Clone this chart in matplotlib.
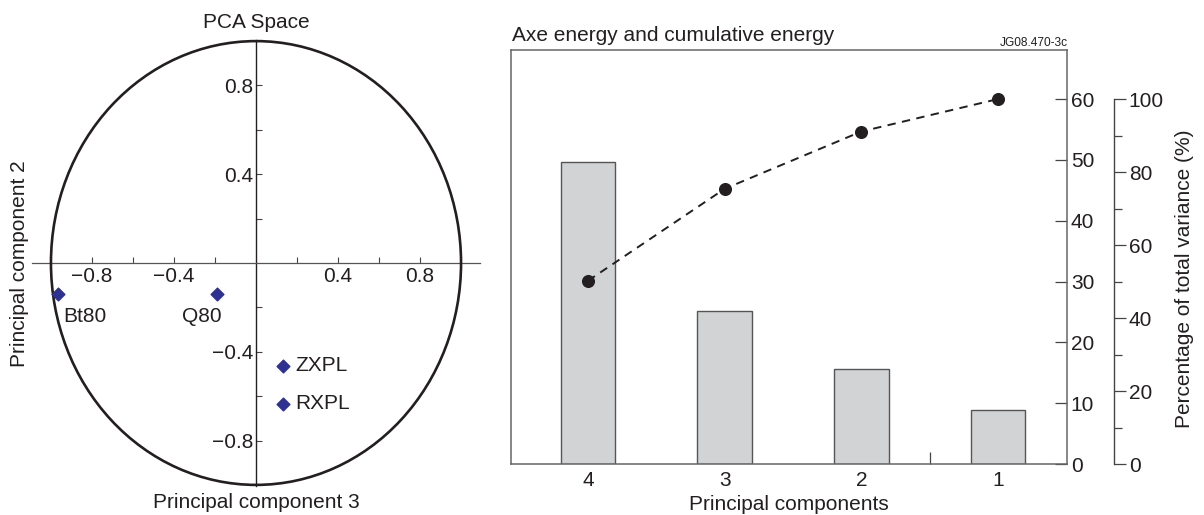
import matplotlib
matplotlib.use("Agg")
import matplotlib.pyplot as plt
from matplotlib.patches import Circle
from matplotlib.ticker import FixedLocator

plt.rcParams['font.family'] = ['Liberation Sans', 'DejaVu Sans']
plt.rcParams['axes.unicode_minus'] = True

# ---- Data ----
variables = ['Bt80', 'Q80', 'ZXPL', 'RXPL']
pc3 = [-0.967, -0.192, 0.133, 0.133]
pc2 = [-0.141, -0.141, -0.464, -0.635]

components = ['4', '3', '2', '1']
axe_energy = [49.7, 25.2, 15.6, 8.8]
cumulative_pct = [50.2, 75.4, 91.1, 100.0]

W, H = 1204, 515
fig = plt.figure(figsize=(W / 100, H / 100), dpi=100)
FS = 15
DARK = '#231f20'

# ---- Left: PCA space ----
ax1 = fig.add_axes([32.5 / W, 29 / H, 447 / W, 446 / H])
ax1.set_xlim(-1.09, 1.09)
ax1.set_ylim(-1.005, 1.005)
ax1.spines['top'].set_visible(False)
ax1.spines['right'].set_visible(False)
ax1.spines['left'].set_position(('data', 0))
ax1.spines['bottom'].set_position(('data', 0))
ax1.spines['left'].set_color(DARK)
ax1.spines['left'].set_linewidth(1.0)
ax1.spines['bottom'].set_color('#555555')
ax1.spines['bottom'].set_linewidth(0.9)
ax1.set_xticks([-0.8, -0.4, 0.4, 0.8])
ax1.set_yticks([-0.8, -0.4, 0.4, 0.8])
ax1.xaxis.set_minor_locator(FixedLocator([-0.6, -0.2, 0.2, 0.6]))
ax1.yaxis.set_minor_locator(FixedLocator([-0.6, -0.2, 0.2, 0.6]))
ax1.set_xticklabels(['\u22120.8', '\u22120.4', '0.4', '0.8'])
ax1.set_yticklabels(['\u22120.8', '\u22120.4', '0.4', '0.8'])
ax1.tick_params(axis='both', which='both', direction='in', length=4.3, width=0.8,
                color='#444444', labelsize=FS, labelcolor=DARK)
ax1.tick_params(axis='x', which='both', pad=3)
ax1.tick_params(axis='y', which='both', pad=2)
ax1.add_patch(Circle((0, 0), 1.0, fill=False, lw=1.9, ec=DARK, clip_on=False, zorder=3))
ax1.scatter(pc3, pc2, marker='D', s=42, color='#2e3192', zorder=4, clip_on=False)
offsets = {'Bt80': (4, -16, 'left'), 'Q80': (-10.5, -16, 'center'),
           'ZXPL': (8.4, 0, 'left'), 'RXPL': (8.4, 0, 'left')}
for name, x, y in zip(variables, pc3, pc2):
    dx, dy, ha = offsets[name]
    ax1.annotate(name, (x, y), xytext=(dx, dy), textcoords='offset points',
                 ha=ha, va='center', fontsize=FS, color=DARK)
fig.text(256 / W, 1 - 22 / H, 'PCA Space', ha='center', va='center', fontsize=FS, color=DARK)
fig.text(256 / W, 1 - 502 / H, 'Principal component 3', ha='center', va='center',
         fontsize=FS, color=DARK)
fig.text(20 / W, 1 - 264 / H, 'Principal component 2', ha='center', va='center',
         rotation=90, fontsize=FS, color=DARK)

# ---- Right: energy ----
ax2 = fig.add_axes([511 / W, 51 / H, 555.7 / W, 414 / H])
x = list(range(len(components)))
ax2.bar(x, axe_energy, width=0.40, color='#d1d3d4', edgecolor='#555555', linewidth=1.0, zorder=2)
ax2.set_xlim(-0.563, 3.502)
ax2.set_ylim(0, 68.06)
for s in ['left', 'right', 'top', 'bottom']:
    ax2.spines[s].set_color('#666666')
    ax2.spines[s].set_linewidth(1.1)
ax2.set_xticks(x)
ax2.set_xticklabels(components)
ax2.xaxis.set_minor_locator(FixedLocator([2.5]))
ax2.tick_params(axis='x', which='major', length=0, pad=5, labelsize=FS, labelcolor=DARK)
ax2.tick_params(axis='x', which='minor', direction='in', length=8.6, width=0.9, color='#444444')
ax2.set_xlabel('Principal components', fontsize=FS, color=DARK, labelpad=4)

ax3 = ax2.twinx()
ax2.yaxis.tick_right()
ax2.set_yticks([0, 10, 20, 30, 40, 50, 60])
ax2.tick_params(axis='y', which='major', direction='in', length=8.4, width=0.9,
                color='#444444', pad=3, labelsize=FS, labelcolor=DARK,
                left=False, labelleft=False, right=True, labelright=True)

ax3.set_ylim(0, 68.06 * 100 / 60)
for s in ['left', 'top', 'bottom']:
    ax3.spines[s].set_visible(False)
ax3.spines['right'].set_position(('outward', 34))
ax3.spines['right'].set_bounds(0, 100)
ax3.spines['right'].set_color('#444444')
ax3.spines['right'].set_linewidth(1.0)
ax3.set_yticks([0, 20, 40, 60, 80, 100])
ax3.yaxis.set_minor_locator(FixedLocator([10, 30, 50, 70, 90]))
ax3.tick_params(axis='y', which='major', direction='out', length=8.6, width=0.9,
                color='#444444', pad=2, labelsize=FS, labelcolor=DARK)
ax3.tick_params(axis='y', which='minor', direction='out', length=5.5, width=0.9, color='#444444')
ax3.plot(x, cumulative_pct, linestyle=(0, (4.3, 3.3)), color=DARK, lw=1.4,
         marker='o', markersize=8.4, markerfacecolor=DARK, markeredgecolor=DARK, zorder=3)

fig.text(512 / W, 1 - 40.7 / H, 'Axe energy and cumulative energy', ha='left', va='baseline',
         fontsize=FS, color=DARK)
fig.text(1068 / W, 1 - 46 / H, 'JG08.470-3c', ha='right', va='baseline', fontsize=8.6, color=DARK)
fig.text(1185 / W, 1 - 279 / H, 'Percentage of total variance (%)', ha='center', va='center',
         rotation=90, fontsize=FS, color=DARK)

fig.savefig('out.png', dpi=100)
